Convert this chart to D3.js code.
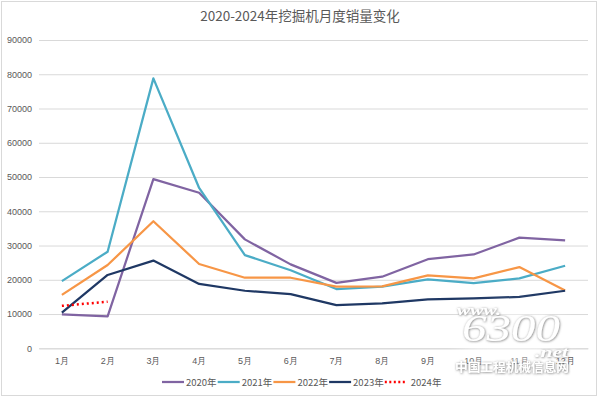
<!DOCTYPE html>
<html>
<head>
<meta charset="utf-8">
<script src="https://cdn.jsdelivr.net/npm/d3@7"></script>
<style>
  body { margin: 0; background: #fff; }
  svg { display: block; font-family: "Noto Sans CJK SC", "Noto Sans", sans-serif; }
</style>
</head>
<body>
<div id="chart"></div>
<script>
const months = ["1月", "2月", "3月", "4月", "5月", "6月", "7月", "8月", "9月", "10月", "11月", "12月"];
const yTicks = [0, 10000, 20000, 30000, 40000, 50000, 60000, 70000, 80000, 90000];

const sales2020 = [9900, 9300, 49400, 45400, 31800, 24500, 19100, 20900, 26000, 27400, 32300, 31500];
const sales2021 = [19600, 28200, 78800, 46800, 27200, 22800, 17300, 18000, 20100, 19000, 20400, 24100];
const sales2022 = [15600, 24300, 37100, 24600, 20600, 20600, 18000, 18100, 21300, 20400, 23700, 16900];
const sales2023 = [10400, 21400, 25600, 18800, 16800, 15800, 12600, 13100, 14300, 14600, 15000, 16800];
const sales2024 = [12400, 13600];

const seriesNames = ["2020年", "2021年", "2022年", "2023年", "2024年"];
const seriesColors = ["#8064a2", "#4bacc6", "#f79646", "#1f3864", "#ff0000"];

const series = [sales2020, sales2021, sales2022, sales2023, sales2024].map((values, i) => ({
  name: seriesNames[i],
  color: seriesColors[i],
  dotted: i === 4,
  values: values.map((v, j) => ({ month: months[j], value: v }))
}));

const width = 600, height = 398;
const margin = { top: 40, right: 12, bottom: 50, left: 39 };

const svg = d3.select("#chart").append("svg")
  .attr("width", width)
  .attr("height", height);

// outer frame
svg.append("rect")
  .attr("x", 1.5).attr("y", 1.5)
  .attr("width", width - 5).attr("height", height - 4)
  .attr("fill", "none")
  .attr("stroke", "#d9d9d9");

const x = d3.scaleBand()
  .domain(months)
  .range([margin.left, width - margin.right]);

const y = d3.scaleLinear()
  .domain([0, 90000])
  .range([348.3, 40]);

// title
svg.append("text")
  .attr("x", 300).attr("y", 21)
  .attr("text-anchor", "middle")
  .attr("font-size", 13.5)
  .attr("fill", "#595959")
  .text("2020-2024年挖掘机月度销量变化");

// y grid + labels
const yAxis = svg.append("g")
  .attr("transform", `translate(${margin.left},0)`)
  .call(d3.axisLeft(y).tickValues(yTicks).tickSize(-(width - margin.left - margin.right)).tickPadding(7).tickFormat(d3.format("d")));
yAxis.select(".domain").remove();
yAxis.selectAll(".tick line").attr("stroke", "#d9d9d9");
yAxis.selectAll(".tick text")
  .attr("fill", "#595959")
  .attr("font-size", 9);

// x labels
const xAxis = svg.append("g")
  .attr("transform", `translate(0,${y(0)})`)
  .call(d3.axisBottom(x).tickSize(0).tickPadding(9));
xAxis.select(".domain").attr("stroke", "#d9d9d9");
xAxis.selectAll(".tick text")
  .attr("fill", "#595959")
  .attr("font-size", 9);

const line = d3.line()
  .x(d => x(d.month) + x.bandwidth() / 2)
  .y(d => y(d.value));

svg.append("g").selectAll("path")
  .data(series)
  .join("path")
  .attr("d", d => line(d.values))
  .attr("fill", "none")
  .attr("stroke", d => d.color)
  .attr("stroke-width", d => d.dotted ? 2.5 : 2.25)
  .attr("stroke-dasharray", d => d.dotted ? "2 3" : null)
  .attr("stroke-linejoin", "round");

// legend
const legend = svg.append("g")
  .attr("transform", "translate(162,382)");

const item = legend.selectAll("g")
  .data(series)
  .join("g")
  .attr("transform", (d, i) => `translate(${i * 55.7},0)`);

item.append("line")
  .attr("x1", 0).attr("x2", 22)
  .attr("stroke", d => d.color)
  .attr("stroke-width", d => d.dotted ? 2.5 : 2.25)
  .attr("stroke-dasharray", d => d.dotted ? "2 2.5" : null);

item.append("text")
  .attr("x", d => d.dotted ? 26 : 24)
  .attr("y", 3.5)
  .attr("font-size", 9.5)
  .attr("fill", "#595959")
  .text(d => d.name);

// watermark (site logo)
const defs = svg.append("defs");
const glow = defs.append("filter").attr("id", "glow").attr("x", "-30%").attr("y", "-30%").attr("width", "160%").attr("height", "160%");
glow.append("feGaussianBlur").attr("stdDeviation", 8);

const f = defs.append("filter").attr("id", "wm").attr("x", "-20%").attr("y", "-40%").attr("width", "140%").attr("height", "180%");
f.append("feDropShadow").attr("dx", 0.5).attr("dy", 0.5).attr("stdDeviation", 1.2).attr("flood-color", "#6e6e6e").attr("flood-opacity", 1);

svg.append("ellipse")
  .attr("cx", 512).attr("cy", 335)
  .attr("rx", 56).attr("ry", 28)
  .attr("fill", "#fff")
  .attr("opacity", 0.5)
  .attr("filter", "url(#glow)");

const wm = svg.append("g").attr("filter", "url(#wm)").attr("fill", "#fff");
wm.append("text")
  .attr("x", 457).attr("y", 315)
  .attr("font-family", "Liberation Serif, serif")
  .attr("font-style", "italic")
  .attr("font-weight", "bold")
  .attr("font-size", 15)
  .attr("textLength", 44)
  .attr("lengthAdjust", "spacingAndGlyphs")
  .text("www.");
wm.append("text")
  .attr("x", 462).attr("y", 341)
  .attr("font-family", "Liberation Serif, serif")
  .attr("font-style", "italic")
  .attr("font-size", 38)
  .attr("textLength", 98)
  .attr("lengthAdjust", "spacingAndGlyphs")
  .text("6300");
wm.append("text")
  .attr("x", 535).attr("y", 357)
  .attr("font-family", "Liberation Serif, serif")
  .attr("font-style", "italic")
  .attr("font-weight", "bold")
  .attr("font-size", 14)
  .attr("textLength", 33)
  .attr("lengthAdjust", "spacingAndGlyphs")
  .text(".net");
wm.append("text")
  .attr("x", 455).attr("y", 372)
  .attr("font-size", 12.5)
  .attr("font-weight", "bold")
  .attr("textLength", 114)
  .attr("lengthAdjust", "spacingAndGlyphs")
  .text("中国工程机械信息网");
</script>
</body>
</html>
